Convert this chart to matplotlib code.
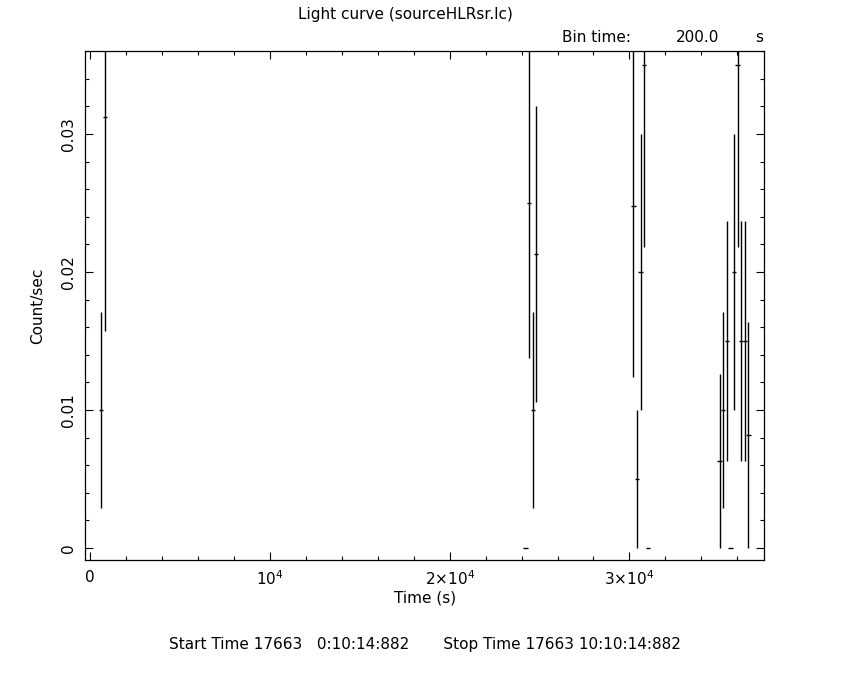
"""
Light curve of sourceHLRsr.lc, 200 s bins, redrawn in matplotlib.
"""
import matplotlib
matplotlib.use("Agg")
import matplotlib.pyplot as plt
from matplotlib.ticker import FixedLocator, MultipleLocator

# Bin centres (s since start) and rates
time_s = [610, 830,
          24220, 24420, 24620, 24820,
          30220, 30420, 30620, 30820, 31020,
          35020, 35220, 35420, 35620, 35820, 36020, 36220, 36420, 36620]
rate = [0.0100, 0.0312,
        0.0, 0.0250, 0.0100, 0.0213,
        0.0248, 0.0050, 0.0200, 0.0350, 0.0,
        0.0063, 0.0100, 0.0150, 0.0, 0.0200, 0.0350, 0.0150, 0.0150, 0.0082]
rate_err = [0.0071, 0.0155,
            0.0, 0.0112, 0.0071, 0.0107,
            0.0124, 0.0050, 0.0100, 0.0132, 0.0,
            0.0063, 0.0071, 0.0087, 0.0, 0.0100, 0.0132, 0.0087, 0.0087, 0.0082]
bin_half = 120  # drawn half-width of a 200 s bin

x_ticks = [0, 10000, 20000, 30000]
x_ticklabels = ["0", r"10$^4$", r"2$\times$10$^4$", r"3$\times$10$^4$"]
y_ticks = [0, 0.01, 0.02, 0.03]
y_ticklabels = ["0", "0.01", "0.02", "0.03"]

plt.rcParams["mathtext.default"] = "regular"
FS = 11

fig = plt.figure(figsize=(8.5, 6.8), dpi=100)
ax = fig.add_axes([85.3 / 850, 1 - 560 / 680, (764.3 - 85.3) / 850, (560 - 51) / 680])

ax.errorbar(time_s, rate, xerr=bin_half, yerr=rate_err, fmt="none",
            ecolor="black", elinewidth=1.0, capsize=0)

ax.set_xlim(-278, 37507)
ax.set_ylim(-0.00087, 0.03601)

ax.xaxis.set_major_locator(FixedLocator(x_ticks))
ax.set_xticklabels(x_ticklabels, fontsize=FS)
ax.xaxis.set_minor_locator(MultipleLocator(2000))
ax.yaxis.set_major_locator(FixedLocator(y_ticks))
ax.set_yticklabels(y_ticklabels, fontsize=FS, rotation=90, va="center")
ax.yaxis.set_minor_locator(MultipleLocator(0.002))

ax.tick_params(which="both", direction="in", top=True, right=True, width=0.8, color="black")
ax.tick_params(which="major", length=6)
ax.tick_params(which="minor", length=3)
ax.tick_params(axis="x", pad=7)
ax.tick_params(axis="y", pad=7)
for sp in ax.spines.values():
    sp.set_linewidth(0.9)

fig.text(405 / 850, 1 - 14 / 680, "Light curve (sourceHLRsr.lc)", ha="center", va="center", fontsize=FS)
fig.text(562 / 850, 1 - 38 / 680, "Bin time:", ha="left", va="center", fontsize=FS)
fig.text(676 / 850, 1 - 38 / 680, "200.0", ha="left", va="center", fontsize=FS)
fig.text(755 / 850, 1 - 38 / 680, "s", ha="left", va="center", fontsize=FS)
fig.text(38 / 850, 1 - 306 / 680, "Count/sec", rotation=90, ha="center", va="center", fontsize=FS)
fig.text(425 / 850, 1 - 598 / 680, "Time (s)", ha="center", va="center", fontsize=FS)
fig.text(425 / 850, 1 - 645 / 680,
         "Start Time 17663   0:10:14:882       Stop Time 17663 10:10:14:882",
         ha="center", va="center", fontsize=FS)

fig.savefig("out.png", dpi=100, facecolor="white")
